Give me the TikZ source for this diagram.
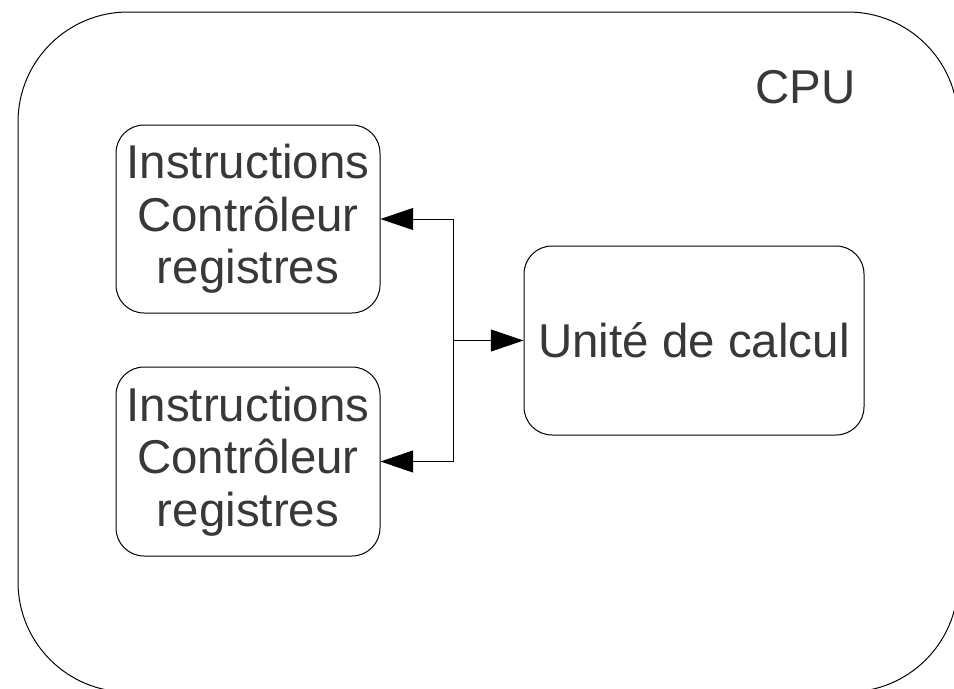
\documentclass[tikz,border=0pt]{standalone}
\usepackage{fontspec}
\setmainfont{Liberation Sans}
\usetikzlibrary{arrows.meta}
\definecolor{textgray}{HTML}{383838}
\tikzset{
  unit box/.style={draw=black, line width=0.75pt, rounded corners=21pt,
    inner sep=0pt, align=center, text=textgray,
    font=\fontsize{35.6pt}{39.5pt}\selectfont},
  link/.style={draw=black, line width=0.75pt,
    -{Triangle[length=24.5pt,width=16.5pt]}},
}
\begin{document}
\begin{tikzpicture}[x=0.75pt,y=-0.75pt]
  \useasboundingbox (0,0) rectangle (954,689);
  \begin{scope}
    \clip (0,0) rectangle (954,689);
    % processor outline, running off the page on the right and bottom
    \draw[line width=0.75pt, rounded corners=82.5pt] (18,12) rectangle (958,692);
  \end{scope}
  \node[anchor=base west, text=textgray, font=\fontsize{35.6pt}{39.5pt}\selectfont]
    (cpu) at (751,103) {CPU};

  \node[unit box, minimum width=198pt, minimum height=141pt] (ctrlA) at (248,219)
    {Instructions\\Contrôleur\\registres};
  \node[unit box, minimum width=198pt, minimum height=141.75pt] (ctrlB) at (248,461.5)
    {Instructions\\Contrôleur\\registres};
  \node[unit box, minimum width=255pt, minimum height=141.75pt] (alu) at (694,340.5)
    {Unité de calcul};

  \coordinate (hub) at (453,340.5);
  \draw[link] (hub) |- (ctrlA.east);
  \draw[link] (hub) |- (ctrlB.east);
  \draw[link] (hub) -- (alu.west);
\end{tikzpicture}
\end{document}
